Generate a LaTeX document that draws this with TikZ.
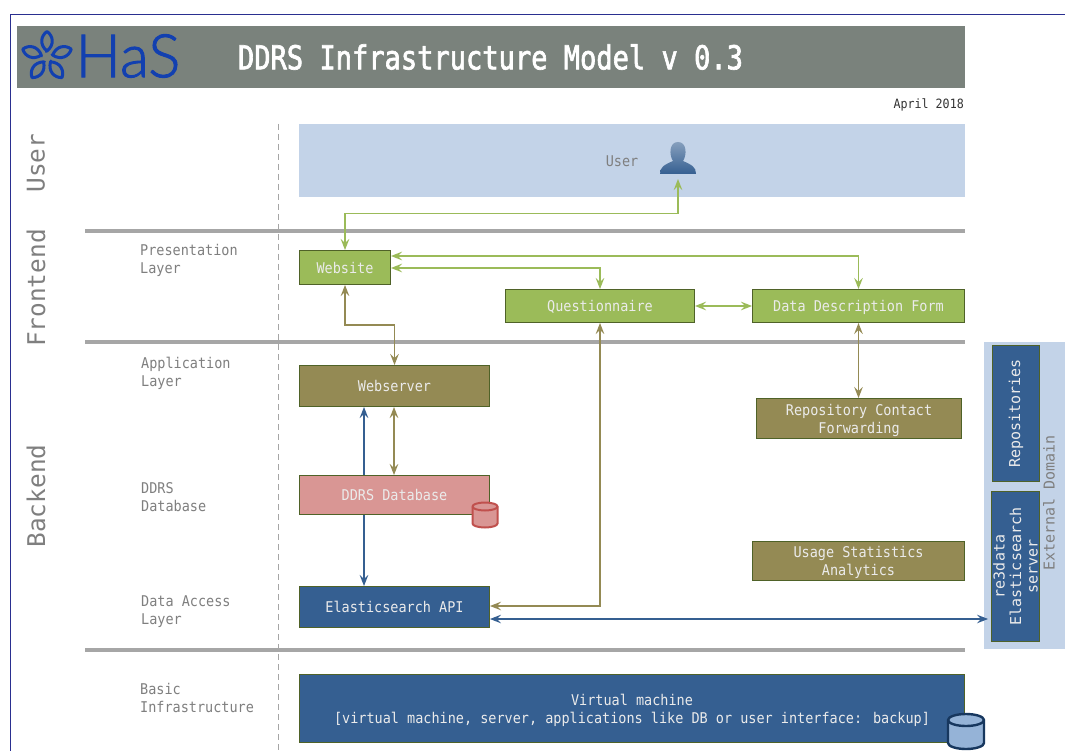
\documentclass[tikz,border=0pt]{standalone}
\usepackage{fontspec}
\setmainfont[FakeStretch=0.912]{DejaVu Sans Mono}
\newfontfamily\plainmono{DejaVu Sans Mono}
\newfontfamily\titlemono[FakeStretch=0.82,FakeBold=2]{DejaVu Sans Mono}
\newfontfamily\logofont[FakeBold=1.5]{Lato Light}
\usetikzlibrary{arrows.meta,calc}
\definecolor{titlegray}{HTML}{7A827C}
\definecolor{bandblue}{HTML}{C3D3E8}
\definecolor{boxgreen}{HTML}{9BBB59}
\definecolor{edgegreen}{HTML}{4F6228}
\definecolor{boxolive}{HTML}{948A54}
\definecolor{boxred}{HTML}{D99694}
\definecolor{boxblue}{HTML}{355F91}
\definecolor{logoblue}{HTML}{1240B0}
\definecolor{framecol}{HTML}{2A2F90}
\definecolor{labelgray}{HTML}{7F7F7F}
\definecolor{rulegray}{HTML}{A6A6A6}
\definecolor{cylred}{HTML}{C0504D}
\definecolor{cylnavy}{HTML}{17375E}
\definecolor{cylblue}{HTML}{95B3D7}
\newcommand{\toppad}{\rule{0pt}{14.8pt}}
\newcommand{\dbdrum}[8]{% cx, top y, rx, bottom y, ry, line, body, width
  \draw[#6,line width=#8,fill=#7] (#1-#3,#2+#5) -- (#1-#3,#4-#5)
    arc[start angle=180,end angle=360,x radius=#3,y radius=-#5] -- (#1+#3,#2+#5)
    arc[start angle=0,end angle=180,x radius=#3,y radius=-#5] -- cycle;
  \draw[#6,line width=#8] (#1-#3,#2+#5) arc[start angle=180,end angle=360,x radius=#3,y radius=-#5];
}
\tikzset{
  basebox/.style={draw=edgegreen,line width=0.9pt,inner sep=0pt,align=center,text=white!92!black,
    font=\fontsize{14.8}{18}\selectfont},
  oneline/.style={text height=14pt,text depth=2.2pt},
  gbox/.style={basebox,fill=boxgreen},
  obox/.style={basebox,fill=boxolive},
  rbox/.style={basebox,fill=boxred},
  bbox/.style={basebox,fill=boxblue},
  sidebox/.style={bbox,rotate=90,font=\plainmono\fontsize{15}{16.5}\selectfont},
  layerlabel/.style={text=labelgray,align=left,anchor=north west,inner sep=0pt,font=\fontsize{14.8}{18}\selectfont},
  sidelabel/.style={text=labelgray,rotate=90,inner sep=0pt,font=\plainmono\fontsize{24.4}{28}\selectfont},
  rulebar/.style={draw=rulegray,line width=3.5pt},
  onetip/.style={-{Stealth[length=11pt,width=8.5pt,inset=4pt]}},
  bothtips/.style={{Stealth[length=11pt,width=8.5pt,inset=4pt]}-{Stealth[length=11pt,width=8.5pt,inset=4pt]}},
  glink/.style={bothtips,draw=boxgreen,line width=1.5pt},
  olink/.style={bothtips,draw=boxolive,line width=1.5pt},
  blink/.style={bothtips,draw=boxblue,line width=1.2pt},
  bline/.style={onetip,draw=boxblue,line width=1.5pt},
  petal/.pic={\draw[logoblue,line width=3pt,line join=round]
     (0,-6) .. controls (-7.5,-12) and (-6.5,-21) .. (0,-25.5) .. controls (6.5,-21) and (7.5,-12) .. (0,-6)
     -- (72:-6);},
}
\begin{document}
\begin{tikzpicture}[x=1pt,y=-1pt]
\useasboundingbox (0,0) rectangle (1065,751);
\fill[white] (0,0) rectangle (1065,751);
% frame
\draw[framecol,line width=1pt] (10.5,751) -- (10.5,14.5) -- (1065,14.5);
% title band
\node[fill=titlegray,minimum width=948pt,minimum height=62pt,inner sep=0pt] (titleband) at (491,57) {};
\node[text=white,font=\titlemono\fontsize{33}{36}\selectfont,inner sep=0pt] (titletext) at (490.5,57) {DDRS Infrastructure Model v 0.3};
\foreach \a in {0,72,144,216,288} \pic[rotate=\a] at (47,57) {petal};
\node[text=logoblue,font=\logofont\fontsize{60}{60}\selectfont,inner sep=0pt] (logotext) at (128,56) {HaS};
\node[font=\fontsize{12.8}{14}\selectfont,text=black!80,anchor=east,inner sep=0pt] (datelabel) at (964,105) {April 2018};
% user band
\node[fill=bandblue,minimum width=666pt,minimum height=73pt,inner sep=0pt] (userband) at (632,160.5) {};
\node[text=labelgray,font=\fontsize{14.8}{18}\selectfont,inner sep=0pt] (userlabel) at (622,161) {User};
% external band
\node[fill=bandblue,minimum width=81pt,minimum height=307pt,inner sep=0pt] (extband) at (1024.5,495.5) {};
% rules
\draw[rulebar] (85,231) -- (965,231);
\draw[rulebar] (85,342) -- (965,342);
\draw[rulebar] (85,650) -- (965,650);
\draw[labelgray!70,line width=1.3pt,dash pattern=on 6pt off 4pt] (278.5,124) -- (278.5,751);
% side labels
\node[sidelabel] (sideuser) at (36,163) {User};
\node[sidelabel] (sidefront) at (36,288) {Frontend};
\node[sidelabel] (sideback) at (36,496) {Backend};
% layer labels
\node[layerlabel] (l1) at (140,244.5) {Presentation\\Layer};
\node[layerlabel] (l2) at (141,357) {Application\\Layer};
\node[layerlabel] (l3) at (141,482) {DDRS\\Database};
\node[layerlabel] (l4) at (141,596) {Data Access\\Layer};
\node[layerlabel] (l5) at (140,683) {Basic\\Infrastructure};
% boxes
\node[gbox,oneline,minimum width=91pt,minimum height=34pt] (website) at (345,267.5) {Website};
\node[gbox,oneline,minimum width=189pt,minimum height=33pt] (quest) at (600,306) {Questionnaire};
\node[gbox,oneline,minimum width=212pt,minimum height=33pt] (ddf) at (858.5,306) {Data Description Form};
\node[obox,oneline,minimum width=190pt,minimum height=41pt] (webserver) at (394.5,386) {Webserver};
\node[obox,minimum width=205pt,minimum height=40pt] (contact) at (859,418.5) {\toppad Repository Contact\\Forwarding};
\node[rbox,oneline,minimum width=190pt,minimum height=39pt] (ddrsdb) at (394.5,495) {DDRS Database};
\node[obox,minimum width=212pt,minimum height=39pt] (usage) at (858.5,561) {\toppad Usage Statistics\\Analytics};
\node[bbox,oneline,minimum width=190pt,minimum height=41pt] (esapi) at (394.5,607) {Elasticsearch API};
\node[bbox,minimum width=665pt,minimum height=68pt] (vm) at (632,708.5) {\toppad Virtual machine\\{}[virtual machine, server, applications like DB or user interface: backup]};
\node[sidebox,minimum width=136pt,minimum height=47pt] (repos) at (1016,413.5) {Repositories};
\node[sidebox,minimum width=150pt,minimum height=48pt] (re3) at (1015.5,566.5) {re3data\\Elasticsearch\\server};
\node[text=labelgray,rotate=90,inner sep=0pt,font=\plainmono\fontsize{15}{18}\selectfont] (extlabel) at (1049,503) {External Domain};
% cylinders
\dbdrum{485}{502.5}{12.5}{527.5}{4}{cylred}{boxred}{2pt}
\dbdrum{966}{714}{18}{749}{6}{cylnavy}{cylblue}{2.4pt}
% user icon
\shade[top color=boxblue!60!white,bottom color=boxblue]
  (660,174) .. controls (660,167) and (664,165) .. (673,161) .. controls (669,155) and (669,142) .. (678,142)
  .. controls (687,142) and (687,155) .. (683,161) .. controls (692,165) and (696,167) .. (696,174) -- cycle;
\coordinate (usericon) at (678,179);
% connectors
\coordinate (uturn) at (0,213.5);
\coordinate (wturn) at (0,325);
\coordinate (wqy) at (0,268);
\coordinate (wdy) at (0,256);
\coordinate (qdy) at (0,306);
\coordinate (esoy) at (0,606);
\coordinate (esby) at (0,619);
\coordinate (x364) at (364,0);
\coordinate (x394) at (394,0);
\draw[glink] (website.north) |- (uturn -| usericon) -- (usericon);
\draw[glink] (wqy -| website.east) -| (quest.north);
\draw[glink] (wdy -| website.east) -| (ddf.north);
\draw[glink] (qdy -| quest.east) -- (qdy -| ddf.west);
\draw[olink] (website.south) |- (wturn -| webserver.north) -- (webserver.north);
\draw[olink] (quest.south) |- (esoy -| esapi.east);
\draw[olink] (ddf.south) -- (ddf.south |- contact.north);
\draw[olink] (webserver.south -| x394) -- (ddrsdb.north -| x394);
\draw[bline] (ddrsdb.north -| x364) -- (webserver.south -| x364);
\draw[bline] (ddrsdb.south -| x364) -- (esapi.north -| x364);
\draw[blink] (esby -| esapi.east) -- ($(esby -| re3.north)+(-3,0)$);
\end{tikzpicture}
\end{document}
